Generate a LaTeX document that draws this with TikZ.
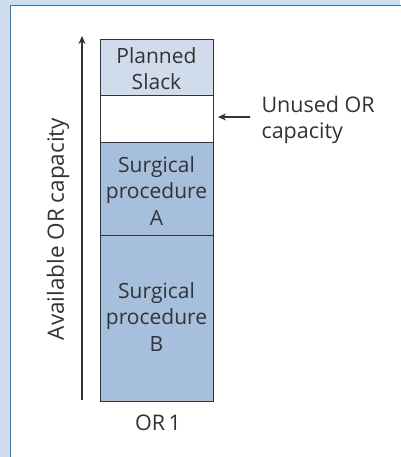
\documentclass[tikz,border=0pt]{standalone}
\usepackage{fontspec}
\setmainfont{Open Sans}
\usetikzlibrary{arrows.meta}
\begin{document}
\definecolor{pagebg}{HTML}{CFDCEB}
\definecolor{panelline}{HTML}{1E7FC4}
\definecolor{slackfill}{HTML}{D0DCEC}
\definecolor{procfill}{HTML}{A5BFDD}
\definecolor{ink}{HTML}{333333}
\begin{tikzpicture}[x=1pt,y=-1pt,
  block/.style={draw=ink,line width=0.8pt},
  blocktext/.style={text=ink,align=center,font=\fontsize{21}{26.7}\selectfont},
  label/.style={text=ink,font=\fontsize{21.5}{26.7}\selectfont},
  arr/.style={draw=ink,line width=1.1pt,-{Stealth[length=8pt,width=7pt]}}]
  \useasboundingbox (0,0) rectangle (400,457);
  % page background and white panel
  \fill[pagebg] (0,0) rectangle (400,457);
  \fill[white] (10,6) rectangle (402,460);
  \draw[panelline,line width=1pt] (10,460) -- (10,6) -- (402,6);
  % stacked capacity column
  \path[block,fill=slackfill] (100,39) rectangle (213,95);
  \node[blocktext] (slack) at (156.5,68.5) {Planned\\Slack};
  \path[block,fill=white] (100,95) rectangle (213,142);
  \coordinate (unused) at (218,117);
  \path[block,fill=procfill] (100,142) rectangle (213,235);
  \node[blocktext] (procA) at (156.5,191) {Surgical\\procedure\\A};
  \path[block,fill=procfill] (100,235) rectangle (213,401);
  \node[blocktext] (procB) at (156.5,317) {Surgical\\procedure\\B};
  % axis
  \coordinate (axbot) at (82,400);
  \coordinate (axtop) at (82,36);
  \draw[arr] (axbot) -- (axtop);
  \node[label,rotate=90,font=\fontsize{22.5}{27}\selectfont] (axlabel) at (58,229) {Available OR capacity};
  % callout
  \node[label,align=left,anchor=west] (note) at (258,120) {Unused OR\\capacity};
  \coordinate (noteend) at (250,117);
  \draw[arr] (noteend) -- (unused);
  \node[label] (or1) at (158,423) {OR\,1};
\end{tikzpicture}
\end{document}
